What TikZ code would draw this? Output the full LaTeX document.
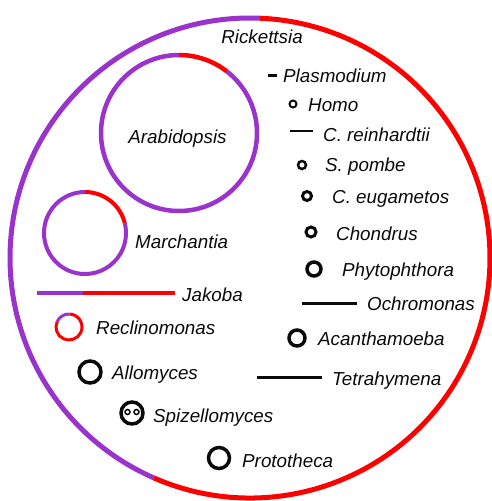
\documentclass[tikz,border=0pt]{standalone}
\usepackage{fontspec}
\setmainfont{Liberation Sans}
\definecolor{mitoPurple}{RGB}{153,51,204}
\definecolor{mitoRed}{RGB}{255,0,0}
\definecolor{mitoInk}{RGB}{10,10,10}
\tikzset{
  taxon/.style={font={\fontsize{18.8}{20}\selectfont\itshape}, text=mitoInk, inner sep=0pt, anchor=base west},
  genome/.style={draw=mitoInk, line width=3pt},
}

\begin{document}
\begin{tikzpicture}[x=1pt,y=-1pt]
\useasboundingbox (0,0) rectangle (491,501);
% Rickettsia
\draw[mitoPurple, line width=5pt] (250,258) ++(87.6:240pt) arc[start angle=87.6, end angle=246.4, radius=240pt];
\draw[mitoRed, line width=5pt] (250,258) ++(246.4:240pt) arc[start angle=246.4, end angle=447.6, radius=240pt];
\node[taxon, anchor=base] (rickettsia) at (262,43.5) {Rickettsia};
% Arabidopsis
\draw[mitoRed, line width=4.5pt] (179,133) ++(52:78pt) arc[start angle=52, end angle=90, radius=78pt];
\draw[mitoPurple, line width=4.5pt] (179,133) ++(90:78pt) arc[start angle=90, end angle=412, radius=78pt];
\node[taxon, anchor=base] (arabidopsis) at (177.5,143) {Arabidopsis};
% Marchantia
\draw[mitoRed, line width=4pt] (85,233) ++(14:41pt) arc[start angle=14, end angle=90, radius=41pt];
\draw[mitoPurple, line width=4pt] (85,233) ++(90:41pt) arc[start angle=90, end angle=374, radius=41pt];
\node[taxon] (marchantia) at (135,248) {Marchantia};
% Jakoba
\draw[mitoPurple, line width=3.5pt] (37,293) -- (83,293);
\draw[mitoRed, line width=3.5pt] (83,293) -- (175,293);
\node[taxon] (jakoba) at (182,301) {Jakoba};
% Reclinomonas
\draw[mitoPurple, line width=3pt] (69,327) ++(88:13pt) arc[start angle=88, end angle=155, radius=13pt];
\draw[mitoRed, line width=3pt] (69,327) ++(155:13pt) arc[start angle=155, end angle=448, radius=13pt];
\node[taxon] (reclinomonas) at (96,334) {Reclinomonas};
% Allomyces, Spizellomyces, Prototheca
\draw[genome, line width=3.5pt] (90,372) circle[radius=11pt];
\node[taxon] (allomyces) at (112,379) {Allomyces};
\draw[genome, line width=3.5pt] (132,413) circle[radius=11pt];
\draw[genome, line width=1.5pt] (127.5,412) circle[radius=2.5pt] (136.5,412) circle[radius=2.5pt];
\node[taxon] (spizellomyces) at (153,422) {Spizellomyces};
\draw[genome, line width=3.5pt] (219,458) circle[radius=10.5pt];
\node[taxon] (prototheca) at (242,467) {Prototheca};
% right column
\draw[genome] (268,75) -- (277,75);
\node[taxon] (plasmodium) at (283,82) {Plasmodium};
\draw[genome, line width=2pt] (293,104) circle[radius=3.5pt];
\node[taxon] (homo) at (308,111) {Homo};
\draw[genome, line width=2.5pt] (290,131) -- (313,131);
\node[taxon] (reinhardtii) at (323,141) {C. reinhardtii};
\draw[genome, line width=2.5pt] (302,165) circle[radius=4pt];
\node[taxon] (pombe) at (325,171) {S. pombe};
\draw[genome] (307,196) circle[radius=4.5pt];
\node[taxon] (eugametos) at (332,203) {C. eugametos};
\draw[genome] (311,232) circle[radius=5pt];
\node[taxon] (chondrus) at (336,240) {Chondrus};
\draw[genome, line width=3.5pt] (314,269) circle[radius=7pt];
\node[taxon] (phytophthora) at (342,276) {Phytophthora};
\draw[genome] (302,303) -- (357,303);
\node[taxon] (ochromonas) at (367,310) {Ochromonas};
\draw[genome, line width=3.5pt] (297,338) circle[radius=8pt];
\node[taxon] (acanthamoeba) at (318,345) {Acanthamoeba};
\draw[genome] (257,377) -- (322,377);
\node[taxon] (tetrahymena) at (332,385) {Tetrahymena};
\end{tikzpicture}
\end{document}
